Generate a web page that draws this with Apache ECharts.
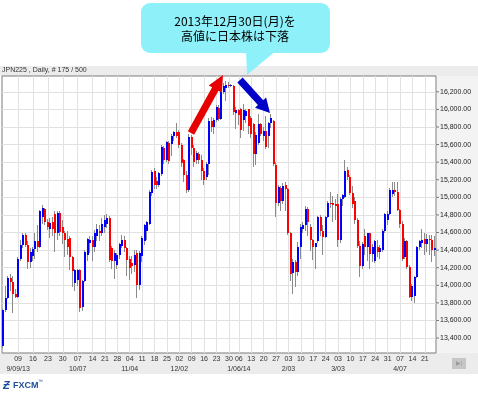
<!DOCTYPE html>
<html><head><meta charset="utf-8">
<script src="https://cdn.jsdelivr.net/npm/echarts@6/dist/echarts.min.js"></script>
<style>html,body{margin:0;padding:0;background:#fff}#c{width:478px;height:395px}</style>
</head><body><div id="c"></div>
<script>
// ---- data ----
const symbol = 'JPN225';
const period = 'Daily';
const totalBars = 500;
const dates = [
'9/2','9/3','9/4','9/5','9/6','9/7',
'9/9','9/10','9/11','9/12','9/13','9/14',
'9/16','9/17','9/18','9/19','9/20','9/21',
'9/23','9/24','9/25','9/26','9/27','9/28',
'9/30','10/1','10/2','10/3','10/4','10/5',
'10/7','10/8','10/9','10/10','10/11','10/12',
'10/14','10/15','10/16','10/17','10/18',
'10/21','10/22','10/23','10/24','10/25',
'10/28','10/29','10/30','10/31','11/1',
'11/4','11/5','11/6','11/7','11/8',
'11/11','11/12','11/13','11/14','11/15',
'11/18','11/19','11/20','11/21','11/22',
'11/25','11/26','11/27','11/28','11/29',
'12/2','12/3','12/4','12/5','12/6',
'12/9','12/10','12/11','12/12','12/13',
'12/16','12/17','12/18','12/19','12/20',
'12/23','12/24','12/25','12/26','12/27',
'12/30','12/31','1/2','1/3',
'1/6','1/7','1/8','1/9','1/10',
'1/13','1/14','1/15','1/16','1/17',
'1/20','1/21','1/22','1/23','1/24',
'1/27','1/28','1/29','1/30','1/31',
'2/3','2/4','2/5','2/6','2/7',
'2/10','2/11','2/12','2/13','2/14',
'2/17','2/18','2/19','2/20','2/21',
'2/24','2/25','2/26','2/27','2/28',
'3/3','3/4','3/5','3/6','3/7',
'3/10','3/11','3/12','3/13','3/14',
'3/17','3/18','3/19','3/20','3/21',
'3/24','3/25','3/26','3/27','3/28',
'3/31','4/1','4/2','4/3','4/4',
'4/7','4/8','4/9','4/10','4/11',
'4/14','4/15','4/16','4/17','4/18',
'4/21','4/22','4/23','4/24','4/25'];

const opens = [
13310,13720,13860,14080,14040,13900,13870,14300,14460,14570,
14460,14260,14330,14410,14500,14430,14780,14870,14720,14640,
14720,14810,14600,14820,14660,14600,14530,14540,14320,14030,
14060,14170,13750,14050,14340,14480,14520,14430,14560,14620,
14590,14660,14700,14770,14420,14280,14230,14340,14450,14520,
14420,14300,14250,14230,14370,14000,14330,14500,14620,14700,
15050,15300,15190,15140,15270,15560,15420,15620,15610,15700,
15740,15740,15600,15420,15250,15080,15690,15560,15420,15490,
15420,15300,15230,15380,15870,15800,15880,16020,15890,16200,
16240,16280,16270,16270,15960,15990,16000,15880,15930,16000,
15900,15830,15490,15620,15830,15700,15760,15700,15850,15870,
15370,14940,15110,14960,15140,15100,14590,14140,14270,14150,
14430,14640,14680,14870,14660,14510,14430,14500,14780,14620,
14550,14780,14940,14940,14930,14920,14510,14980,15000,15310,
15230,15050,14960,14740,14450,14220,14560,14430,14590,14360,
14280,14430,14380,14400,14620,14740,14810,15040,15080,15060,
14860,14700,14320,14500,14210,13870,13880,14090,14430,14480,
14530,14470,14530,14510,14400];

const highs = [
13730,13990,14110,14130,14100,13960,14320,14520,14590,14590,
14500,14420,14430,14600,14680,14860,14910,14880,14750,14760,
14780,14840,14840,14840,14740,14620,14620,14560,14330,14180,
14180,14180,14060,14400,14540,14560,14560,14630,14700,14680,
14760,14800,14810,14790,14450,14400,14370,14480,14570,14560,
14440,14330,14330,14400,14400,14390,14560,14700,14730,15080,
15310,15330,15230,15290,15590,15580,15640,15640,15720,15760,
15840,15770,15620,15440,15300,15720,15710,15600,15530,15520,
15480,15330,15400,15900,15910,15900,16050,16050,16220,16300,
16320,16310,16290,16280,16030,16010,16020,16060,16000,16010,
15930,15850,15740,15950,15850,15800,15930,15860,15950,15880,
15400,15140,15130,15160,15170,15110,14610,14300,14290,14490,
14700,14720,14900,14890,14700,14530,14480,14790,14800,14680,
14790,14960,15060,15010,14980,15040,15000,15040,15420,15340,
15250,15130,15000,14760,14500,14490,14640,14600,14600,14470,
14520,14510,14460,14640,14820,14850,15110,15180,15170,15170,
14870,14730,14540,14520,14230,14010,14100,14450,14520,14640,
14600,14580,14570,14570,14560];

const lows = [
13290,13700,13840,13930,13680,13850,13860,14280,14420,14430,
14180,14200,14280,14300,14380,14420,14700,14680,14630,14540,
14560,14380,14520,14560,14470,14320,14340,14170,13980,13940,
13990,13700,13710,14040,14280,14370,14280,14380,14500,14500,
14560,14600,14650,14260,14180,14070,14180,14300,14420,14380,
14110,14060,14130,14150,13860,13950,14260,14460,14520,14690,
15020,15100,15100,15120,15240,15380,15400,15380,15470,15640,
15680,15560,15350,15180,15050,15060,15480,15340,15380,15380,
15200,15140,15200,15250,15740,15720,15860,15870,15880,16180,
16100,16240,16250,15940,15780,15820,15680,15760,15850,15720,
15680,15350,15370,15600,15700,15640,15550,15560,15790,15360,
14780,14900,14850,14930,14850,14570,14050,13900,13980,14110,
14300,14600,14620,14560,14390,14290,14180,14480,14560,14350,
14540,14760,14880,14720,14740,14430,14480,14900,14990,15200,
15030,14880,14700,14420,14090,14180,14350,14280,14180,14260,
14250,14320,14300,14380,14600,14690,14800,15000,15010,14840,
14650,14280,14300,14180,13850,13820,13800,14080,14400,14420,
14340,14380,14340,14260,14330];

const closes = [
13720,13860,14080,14040,13900,13870,14300,14460,14570,14460,
14260,14380,14410,14500,14430,14840,14880,14720,14660,14710,
14640,14600,14820,14610,14600,14510,14430,14320,14160,14170,
14170,13740,14050,14375,14530,14520,14430,14600,14640,14600,
14700,14740,14770,14290,14280,14370,14340,14470,14520,14420,
14290,14200,14220,14340,14000,14370,14540,14680,14720,15060,
15290,15140,15140,15280,15570,15420,15630,15410,15700,15740,
15700,15600,15390,15250,15080,15690,15560,15400,15500,15420,
15300,15200,15380,15870,15800,15880,16030,15890,16200,16270,
16280,16270,16280,15970,15990,15940,15770,15990,15980,15810,
15720,15490,15710,15830,15720,15760,15570,15850,15900,15380,
14940,15120,14960,15130,15100,14590,14130,14270,14150,14430,
14660,14680,14870,14720,14510,14430,14480,14780,14620,14550,
14780,14940,14920,14910,14900,14510,14980,15030,15300,15230,
15050,14930,14740,14450,14220,14470,14430,14590,14360,14440,
14500,14380,14420,14620,14810,14810,15080,15080,15060,14860,
14700,14300,14500,14210,13870,13990,14090,14430,14500,14520,
14470,14530,14510,14400,14420];

// week ticks (first bar of each week) and their labels
const weekTickDates = ['9/9','9/16','9/23','9/30','10/7','10/14','10/21','10/28','11/4','11/11','11/18','11/25',
  '12/2','12/9','12/16','12/23','12/30','1/6','1/13','1/20','1/27','2/3','2/10','2/17','2/24',
  '3/3','3/10','3/17','3/24','3/31','4/7','4/14','4/21'];
const weekTickLabels = ['09','16','23','30','07','14','21','28','04','11','18','25',
  '02','09','16','23','30','06','13','20','27','03','10','17','24',
  '03','10','17','24','31','07','14','21'];
const monthTickDates = ['9/9','10/7','11/4','12/2','1/6','2/3','3/3','4/7'];
const monthTickLabels = ['9/09/13','10/07','11/04','12/02','1/06/14','2/03','3/03','4/07'];
const priceTicks = [13400,13600,13800,14000,14200,14400,14600,14800,15000,15200,15400,15600,15800,16000,16200];
const priceMin = 13230, priceMax = 16380;
const calloutLines = ['2013年12月30日(月)を', '高値に日本株は下落'];

// ---- chart ----
const upColor = '#0000ff', downColor = '#ff0000', wickColor = '#8a8a8a';
const latin = '"Liberation Sans", Arial, sans-serif';
const lastClose = closes[closes.length - 1];
const candleData = dates.map((d, i) => [i, opens[i], closes[i], lows[i], highs[i]]);
const fmtPrice = v => Number(v).toLocaleString('en-US', {minimumFractionDigits: 2, maximumFractionDigits: 2});

function renderCandle(params, api) {
  const idx = api.value(0);
  const o = api.value(1), c = api.value(2), lo = api.value(3), hi = api.value(4);
  const pO = api.coord([idx, o]), pC = api.coord([idx, c]);
  const pL = api.coord([idx, lo]), pH = api.coord([idx, hi]);
  const x = Math.round(pO[0]);
  const top = Math.round(Math.min(pO[1], pC[1]));
  const bot = Math.round(Math.max(pO[1], pC[1]));
  const wy = Math.round(pH[1]), wb = Math.round(pL[1]);
  return {type: 'group', children: [
    {type: 'rect', shape: {x: x - 1, y: wy, width: 1, height: Math.max(1, wb - wy)}, style: {fill: wickColor}},
    {type: 'rect', shape: {x: x - 1, y: top, width: 2, height: Math.max(1, bot - top)}, style: {fill: c >= o ? upColor : downColor}}
  ]};
}

const monthMap = {};
monthTickDates.forEach((d, k) => monthMap[d] = monthTickLabels[k]);
const weekMap = {};
weekTickDates.forEach((d, k) => weekMap[d] = weekTickLabels[k]);

function arrow(tail, tip, shaftHalf, headHalf, headLen) {
  const dx = tip[0] - tail[0], dy = tip[1] - tail[1];
  const L = Math.hypot(dx, dy), ux = dx / L, uy = dy / L, px = -uy, py = ux;
  const bx = tip[0] - ux * headLen, by = tip[1] - uy * headLen;
  return [
    [tail[0] + px * shaftHalf, tail[1] + py * shaftHalf],
    [bx + px * shaftHalf, by + py * shaftHalf],
    [bx + px * headHalf, by + py * headHalf],
    tip,
    [bx - px * headHalf, by - py * headHalf],
    [bx - px * shaftHalf, by - py * shaftHalf],
    [tail[0] - px * shaftHalf, tail[1] - py * shaftHalf]
  ];
}

const axisLabelBase = {color: '#333', fontSize: 7, fontFamily: latin, showMinLabel: true, showMaxLabel: true, hideOverlap: false};

const chart = echarts.init(document.getElementById('c'), null, {renderer: 'canvas'});
chart.setOption({
  animation: false,
  backgroundColor: '#ffffff',
  grid: {left: 2, right: 42, top: 76, bottom: 42, show: true, backgroundColor: '#ffffff',
         borderColor: '#7a7a7a', borderWidth: 1, containLabel: false, outerBoundsMode: 'none'},
  xAxis: [
    {
      type: 'category', data: dates, boundaryGap: true, position: 'bottom',
      axisLine: {show: false}, axisTick: {show: false}, splitLine: {show: false},
      axisLabel: Object.assign({}, axisLabelBase, {
        interval: (i, v) => weekMap[v] !== undefined,
        formatter: v => weekMap[v], margin: 3
      })
    },
    {
      type: 'category', data: dates, boundaryGap: true, position: 'bottom', offset: 0,
      axisLine: {show: false}, axisTick: {show: false}, splitLine: {show: false},
      axisLabel: Object.assign({}, axisLabelBase, {
        interval: (i, v) => monthMap[v] !== undefined,
        formatter: v => monthMap[v], margin: 13
      })
    }
  ],
  yAxis: {type: 'value', min: priceMin, max: priceMax, show: false, scale: true},
  series: [
    {
      type: 'line', data: [], silent: true, z: 1,
      markLine: {
        silent: true, z: 1, symbol: ['none', 'none'], animation: false,
        lineStyle: {color: '#e1e1e1', width: 1, type: 'solid'},
        emphasis: {disabled: true},
        data: [
          ...priceTicks.map(v => ({
            yAxis: v,
            label: {show: true, position: 'end', distance: 0,
              formatter: () => '{t|}{v|' + fmtPrice(v) + '}',
              rich: {t: {width: 3, height: 1, backgroundColor: '#777'},
                     v: {color: '#222', fontSize: 7, fontFamily: latin, padding: [0, 0, 0, 1]}}}
          })),
          ...weekTickDates.map(d => ({xAxis: dates.indexOf(d), label: {show: false}}))
        ]
      }
    },
    {
      type: 'custom', name: symbol, renderItem: renderCandle, data: candleData, z: 3, clip: true,
      encode: {x: 0, y: [1, 2, 3, 4]},
      markLine: {
        silent: true, z: 10, symbol: ['none', 'none'], animation: false,
        lineStyle: {opacity: 0},
        data: [{yAxis: lastClose, label: {show: true, position: 'end', distance: 1,
          formatter: '{b|}', rich: {b: {width: 34, height: 8, backgroundColor: '#ffffff'}}}}]
      }
    }
  ],
  graphic: [
    {type: 'rect', z: -5, shape: {x: 0, y: 66, width: 478, height: 10}, style: {fill: '#ececec'}},
    {type: 'rect', z: -5, shape: {x: 437, y: 76, width: 41, height: 277}, style: {fill: '#f3f3f3'}},
    {type: 'rect', z: -5, shape: {x: 0, y: 353, width: 478, height: 21}, style: {fill: '#ececec'}},
    {type: 'text', z: 5, x: 2, y: 67, style: {text: symbol + ' , ' + period + ', # ' + dates.length + ' / ' + totalBars,
      fill: '#333', font: '7px ' + latin}},
    // callout
    {type: 'rect', z: 20, shape: {x: 141, y: 3, width: 189, height: 50, r: 9}, style: {fill: '#8ef1fa'}},
    {type: 'polygon', z: 20, shape: {points: [[246, 50], [277, 50], [247, 75]]}, style: {fill: '#8ef1fa'}},
    {type: 'text', z: 21, x: 235, y: 21, style: {text: calloutLines[0], fill: '#000', textAlign: 'center', textVerticalAlign: 'middle',
      font: '12px "Noto Sans CJK JP", sans-serif'}},
    {type: 'text', z: 21, x: 235, y: 36, style: {text: calloutLines[1], fill: '#000', textAlign: 'center', textVerticalAlign: 'middle',
      font: '12px "Noto Sans CJK JP", sans-serif'}},
    // arrows
    {type: 'polygon', z: 20, shape: {points: arrow([191, 133], [223, 75], 3.6, 7.5, 16)}, style: {fill: '#e60000'}},
    {type: 'polygon', z: 20, shape: {points: arrow([240, 80], [270, 113], 3.6, 7.5, 14)}, style: {fill: '#0000c8'}},
    // FXCM logo
    {type: 'text', z: 5, x: 3, y: 380, style: {text: 'Ƶ', fill: '#1f4f9f', font: 'bold italic 11px ' + latin}},
    {type: 'text', z: 5, x: 13, y: 381, style: {text: 'FXCM', fill: '#1f4f9f', font: 'bold 9px ' + latin}},
    {type: 'text', z: 5, x: 38, y: 379, style: {text: '™', fill: '#1f4f9f', font: '5px ' + latin}},
    // scroll button
    {type: 'rect', z: 5, shape: {x: 452, y: 358, width: 14, height: 11}, style: {fill: '#c6c6c6'}},
    {type: 'text', z: 6, x: 459, y: 363.5, style: {text: '▶|', fill: '#9a9a9a', textAlign: 'center', textVerticalAlign: 'middle', font: '6px ' + latin}}
  ]
});
</script>
</body></html>
